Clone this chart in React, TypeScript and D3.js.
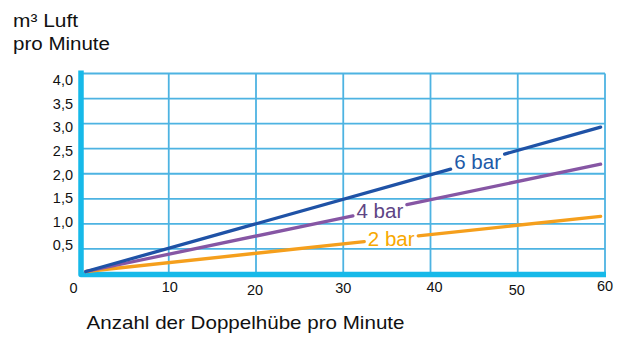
import React from "react";
import * as d3 from "d3";

// ---- data ----
const xTicks = [0, 10, 20, 30, 40, 50, 60];
const yTicks = [0.5, 1.0, 1.5, 2.0, 2.5, 3.0, 3.5, 4.0];
const seriesNames = ["2 bar", "4 bar", "6 bar"];
const strokesPerMin = [0.5, 59.5];
const flow2bar = [0.05, 1.15];
const flow4bar = [0.05, 2.19];
const flow6bar = [0.05, 2.93];
const labelAtStrokes = [35.5, 34.2, 45.4];

const W = 623;
const H = 338;
const FONT = "'Liberation Sans', Arial, Helvetica, sans-serif";

export default function App() {
  const x = d3.scaleLinear().domain([0, 60]).range([81.5, 605]);
  const y = d3.scaleLinear().domain([0, 4]).range([274, 73.5]);
  // tick-label baselines (labels are drawn slightly compressed vs. grid)
  const yLab = d3.scaleLinear().domain([0.5, 4]).range([y(0.5) + 1.5, y(4) + 11.5]);
  const xLabDy = [0, -1, 2, 0, -1, 2, -2];
  const xLabDx = [-8, 1, -1, 0, 4, -1, 0];

  const colors = ["#f59f1c", "#8656a4", "#1f52a6"];
  const textColors = ["#f7a800", "#5e4585", "#1d5aa8"];
  const allFlows = [flow2bar, flow4bar, flow6bar];
  const interp = (pts: [number, number][], sx: number) => {
    const [a, b] = pts;
    return a[1] + ((sx - a[0]) / (b[0] - a[0])) * (b[1] - a[1]);
  };
  const gapHalf = x.invert(x(0) + 27) - 0; // label gap half-width in data units
  const series = seriesNames.map((name, i) => {
    const pts = strokesPerMin.map((s, j) => [s, allFlows[i][j]] as [number, number]);
    const la = labelAtStrokes[i];
    const g0 = la - gapHalf;
    const g1 = la + gapHalf;
    const segA: [number, number][] = [pts[0], [g0, interp(pts, g0)]];
    const segB: [number, number][] = [[g1, interp(pts, g1)], pts[1]];
    return { name, pts, segs: [segA, segB], color: colors[i], textColor: textColors[i], labelAt: la };
  });
  const line = d3
    .line<[number, number]>()
    .x((d) => x(d[0]))
    .y((d) => y(d[1]));

  const grid = "#4db3e2";
  const axis = "#16b9e9";

  return (
    <svg width={W} height={H} style={{ position: "absolute", left: 0, top: 0, background: "#fff" }}>
      <text x={13} y={26.7} fontFamily={FONT} fontSize={18} fill="#111" textLength={65} lengthAdjust="spacingAndGlyphs">
        m³ Luft
      </text>
      <text x={13} y={49.5} fontFamily={FONT} fontSize={18} fill="#111" textLength={97} lengthAdjust="spacingAndGlyphs">
        pro Minute
      </text>

      {/* horizontal grid */}
      {yTicks.map((v) => (
        <line key={"h" + v} x1={x(0)} x2={x(60)} y1={y(v)} y2={y(v)} stroke={grid} strokeWidth={1.8} />
      ))}
      {/* vertical grid */}
      {xTicks.slice(1).map((v) => (
        <line key={"v" + v} x1={x(v)} x2={x(v)} y1={y(4)} y2={y(0)} stroke={grid} strokeWidth={1.8} />
      ))}

      {/* thick axes */}
      <path
        d={`M${x(0) - 0.5},${y(4) - 3} L${x(0) - 0.5},${y(0) + 0.5} L${x(60) + 1},${y(0) + 0.5}`}
        fill="none"
        stroke={axis}
        strokeWidth={5.5}
        strokeLinejoin="round"
      />

      {/* series lines, broken where the label sits */}
      {series.map((s) =>
        s.segs.map((seg, k) => (
          <path
            key={s.name + k}
            d={line(seg) || ""}
            fill="none"
            stroke={s.color}
            strokeWidth={3.3}
            strokeLinecap="round"
          />
        ))
      )}
      {series.map((s) => (
        <text
          key={"l" + s.name}
          x={x(s.labelAt)}
          y={y(interp(s.pts, s.labelAt))}
          dy="0.36em"
          textAnchor="middle"
          fontFamily={FONT}
          fontSize={20.5}
          fill={s.textColor}
        >
          {s.name}
        </text>
      ))}

      {/* y tick labels */}
      {yTicks.map((v) => (
        <text key={"yt" + v} x={73} y={yLab(v)} textAnchor="end" fontFamily={FONT} fontSize={14.5} fill="#111">
          {v.toFixed(1).replace(".", ",")}
        </text>
      ))}
      {/* x tick labels */}
      {xTicks.map((v, i) => (
        <text
          key={"xt" + v}
          x={x(v) + xLabDx[i]}
          y={293 + xLabDy[i]}
          textAnchor="middle"
          fontFamily={FONT}
          fontSize={14.5}
          fill="#111"
        >
          {v}
        </text>
      ))}

      <text x={86.5} y={328.5} fontFamily={FONT} fontSize={18.5} fill="#111" textLength={318} lengthAdjust="spacingAndGlyphs">
        Anzahl der Doppelhübe pro Minute
      </text>
    </svg>
  );
}
